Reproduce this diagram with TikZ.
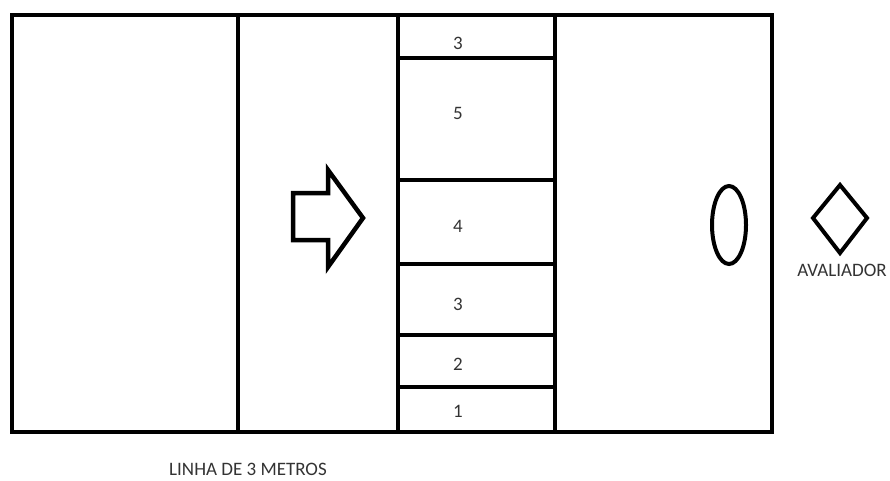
\documentclass[tikz,border=0pt]{standalone}
\usepackage{fontspec}
\setmainfont{Carlito}
\usepackage{tikz}
\definecolor{preto}{HTML}{000000}
\definecolor{cinzaTexto}{HTML}{333333}

\begin{document}
\begin{tikzpicture}[x=1pt,y=-1pt,
  linha/.style={preto,line width=4.5pt},
  rotulo/.style={cinzaTexto,inner sep=0pt,font=\fontsize{19}{22}\selectfont}]
\useasboundingbox (0,0) rectangle (890,480);
% quadra
\draw[linha] (12,15) rectangle (772,432);
\draw[linha] (238,15)--(238,432);
\draw[linha] (398,15)--(398,432);
\draw[linha] (555,15)--(555,432);
\foreach \y in {58,180,264,335,387}
  \draw[linha] (398,\y)--(555,\y);
% seta, bola e avaliador
\draw[linha] (293,193)--(328,193)--(328,170)--(363,218)--(328,267)--(328,240)--(293,240)--cycle;
\draw[linha,line width=4pt] (729,225) ellipse [x radius=17,y radius=39];
\draw[linha,line width=4pt] (813,218)--(840,185)--(867,218)--(840,253)--cycle;
% numeros das faixas
\node[rotulo] (faixaTopo) at (458,43) {3};
\node[rotulo] (faixa5) at (458,113) {5};
\node[rotulo] (faixa4) at (458,226) {4};
\node[rotulo] (faixa3) at (458,304) {3};
\node[rotulo] (faixa2) at (458,364) {2};
\node[rotulo] (faixa1) at (458,411) {1};
\node[rotulo] (avaliador) at (842,270) {AVALIADOR};
\node[rotulo] (linha3m) at (248,469) {LINHA DE 3 METROS};
\end{tikzpicture}
\end{document}
